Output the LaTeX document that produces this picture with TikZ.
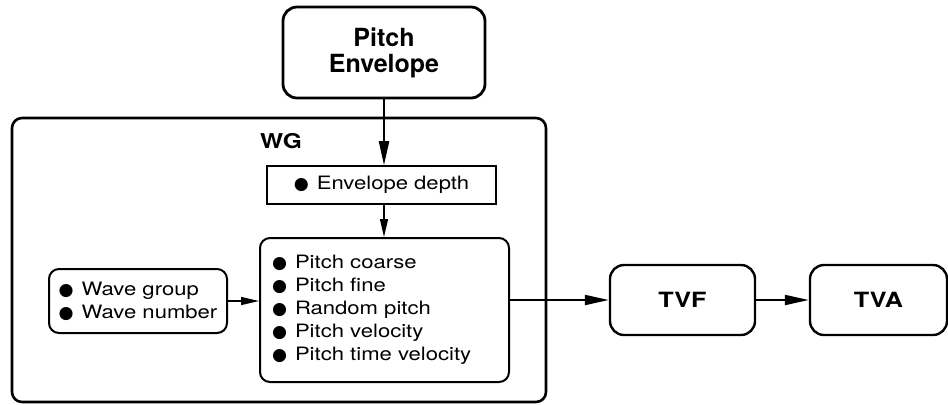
\documentclass[tikz,border=0pt]{standalone}
\usepackage{fontspec}
\setmainfont{TeX Gyre Heros}
\newfontfamily\widefont[FakeStretch=1.2]{TeX Gyre Heros}
\newfontfamily\symfont{DejaVu Sans}
\newcommand{\blob}{{\symfont\fontsize{8.6}{8}\selectfont ●}\hspace{4pt}}
\usetikzlibrary{arrows.meta}

\begin{document}
\begin{tikzpicture}[x=0.5pt,y=-0.5pt,
    box/.style={draw, line width=1.2pt, rounded corners=7pt, align=center},
    listbox/.style={draw, line width=1pt, rounded corners=5pt, align=left, font=\widefont\fontsize{9.2}{11.5}\selectfont},
    bigarrow/.style={line width=1pt, -{Triangle[length=12pt,width=5pt]}},
    smallarrow/.style={line width=0.7pt, -{Triangle[length=9pt,width=4pt]}}]
        \useasboundingbox (0,0) rectangle (948,404);

        % Pitch Envelope (top)
        \node[box, line width=1.4pt, minimum width=101pt, minimum height=45.5pt, font=\bfseries\fontsize{12.5}{13}\selectfont] (penv) at (384,52.5) {Pitch\\Envelope};

        % WG frame and its label
        \node[box, line width=1.3pt, rounded corners=5pt, minimum width=267pt, minimum height=142pt] (wg) at (279,260) {};
        \node[font=\widefont\bfseries\fontsize{10.2}{12}\selectfont] (wglabel) at (281,141) {WG};

        % Envelope depth
        \node[draw, line width=0.8pt, minimum width=114.5pt, minimum height=19pt, font=\widefont\fontsize{9.2}{11.5}\selectfont] (envdepth) at (381.5,185) {\blob Envelope depth};

        % Pitch parameters
        \node[listbox, text width=112.5pt, inner sep=6pt, minimum height=72pt] (pitch) at (384.5,310) {\blob Pitch coarse\\\blob Pitch fine\\\blob Random pitch\\\blob Pitch velocity\\\blob Pitch time velocity};

        % Wave
        \node[listbox, minimum width=89pt, minimum height=32pt] (wave) at (138,301) {\blob Wave group\\\blob Wave number};

        % TVF and TVA
        \node[box, minimum width=72.5pt, minimum height=35pt, font=\widefont\bfseries\fontsize{10.5}{12}\selectfont] (tvf) at (682.5,300) {TVF};
        \node[box, minimum width=68.5pt, minimum height=35pt, font=\widefont\bfseries\fontsize{10.5}{12}\selectfont] (tva) at (878.5,300) {TVA};

        % Connectors
        \draw[bigarrow] (penv.south) -- (penv.south |- envdepth.north);
        \draw[smallarrow] (envdepth.south -| penv.south) -- (penv.south |- pitch.north);
        \draw[smallarrow] (wave.east) -- (wave.east -| pitch.west);
        \draw[bigarrow] (tvf.west -| pitch.east) -- (tvf.west);
        \draw[bigarrow] (tvf.east) -- (tva.west);

    \end{tikzpicture}
\end{document}
